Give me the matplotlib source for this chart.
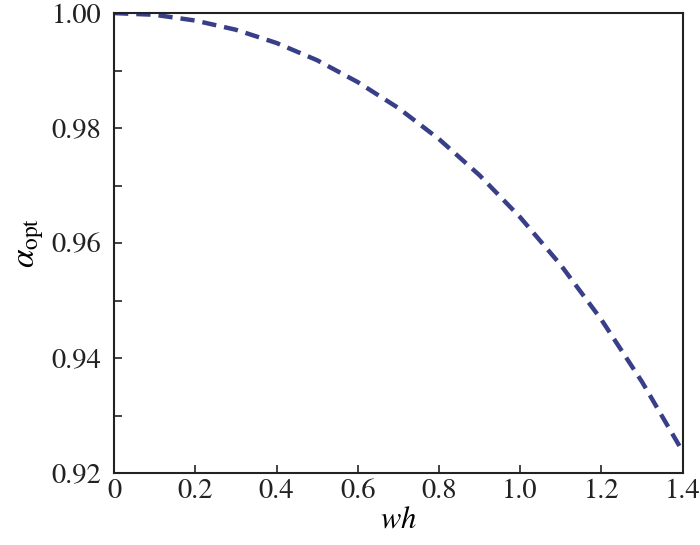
import numpy as np
import matplotlib
matplotlib.use("Agg")
import matplotlib.pyplot as plt
from matplotlib.ticker import MultipleLocator, FormatStrFormatter

# Valores
wh = [0.0, 0.1, 0.2, 0.3, 0.4, 0.5, 0.6, 0.7, 0.8, 0.9, 1.0, 1.1, 1.2, 1.3, 1.4]
alpha_opt = [1.0000, 0.9997, 0.9987, 0.9971, 0.9948, 0.9918, 0.9880, 0.9835,
             0.9781, 0.9718, 0.9645, 0.9562, 0.9467, 0.9359, 0.9238]

x_ticks = [0, 0.2, 0.4, 0.6, 0.8, 1.0, 1.2, 1.4]
x_labels = ["0", "0.2", "0.4", "0.6", "0.8", "1.0", "1.2", "1.4"]
y_ticks = [0.92, 0.94, 0.96, 0.98, 1.00]

plt.rcParams['font.family'] = ['STIXGeneral', 'Liberation Serif', 'DejaVu Serif']
plt.rcParams['mathtext.fontset'] = 'stix'

fig = plt.figure(figsize=(7, 5.45), dpi=100)
ax = fig.add_axes([0.163, 0.132, 0.812, 0.844])

# Linha tracejada
ax.plot(wh, alpha_opt, color='#383f88', linewidth=3.2, linestyle=(0, (3.2, 1.8)),
        solid_capstyle='butt', dash_capstyle='butt')

ax.set_xlim(0, 1.4)
ax.set_ylim(0.92, 1.00)
ax.set_xticks(x_ticks)
ax.set_xticklabels(x_labels)
ax.set_yticks(y_ticks)
ax.yaxis.set_major_formatter(FormatStrFormatter('%.2f'))
ax.yaxis.set_minor_locator(MultipleLocator(0.01))

ax.tick_params(axis='both', which='both', direction='in', top=False, right=False,
               labelsize=20.5, colors='#222222')
ax.tick_params(axis='both', which='major', length=6, width=1.2)
ax.tick_params(axis='y', which='minor', length=6, width=1.2)
ax.tick_params(axis='x', pad=4)
ax.tick_params(axis='y', pad=9)

for s in ax.spines.values():
    s.set_linewidth(1.5)
    s.set_color('#222222')

ax.set_xlabel(r'$wh$', fontsize=22, labelpad=2)
ax.set_ylabel(r'$\alpha_{\rm opt}$', fontsize=24, labelpad=4)

fig.savefig('out.png', dpi=100)
